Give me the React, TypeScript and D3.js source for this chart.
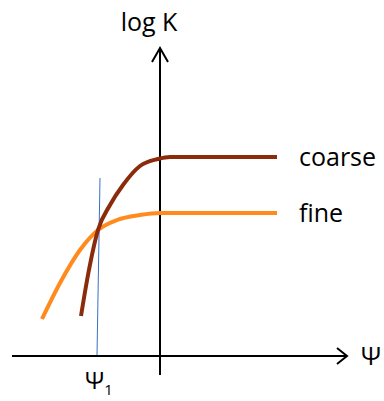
import React from 'react';
import * as d3 from 'd3';

// Curve points, in Ψ / log K units (origin where the axes cross)
const coarsePsi = [-7.9, -7.2, -6.2, -5.0, -3.7, -2.0, -0.2, 1.0, 11.7];
const coarseLogK = [4.0, 8.1, 12.6, 15.1, 17.1, 19.0, 19.7, 19.9, 19.9];

const finePsi = [-11.8, -10.0, -8.0, -6.2, -4.3, -2.0, 0.0, 11.7];
const fineLogK = [3.7, 7.3, 10.6, 12.6, 13.6, 14.1, 14.3, 14.3];

// the thin blue marker line at Ψ1
const psi1Line = [-6.0, -6.3];
const psi1LogK = [17.8, 0.1];

const seriesLabels = ['coarse', 'fine'];
const axisLabels = { y: 'log K', x: 'Ψ', psi1: 'Ψ' };

const W = 384;
const H = 401;

const App = () => {
  const x = d3.scaleLinear().domain([-15, 19]).range([10, 350]);
  const y = d3.scaleLinear().domain([0, 30]).range([356, 56]);

  const line = d3.line<[number, number]>()
    .x(d => x(d[0]))
    .y(d => y(d[1]))
    .curve(d3.curveMonotoneX);

  const coarse: [number, number][] = coarsePsi.map((p, i) => [p, coarseLogK[i]]);
  const fine: [number, number][] = finePsi.map((p, i) => [p, fineLogK[i]]);

  const x0 = x(0);
  const y0 = y(0);
  const yTop = y(30.8);
  const yBottom = y(-1.9);
  const xLeft = x(-14.8);
  const xRight = x(18.7);

  const font = '"Open Sans", sans-serif';

  return (
    <svg width={W} height={H} style={{ position: 'absolute', left: 0, top: 0, background: '#fff' }}>
      {/* y axis */}
      <line x1={x0} x2={x0} y1={yTop} y2={yBottom} stroke="#000" strokeWidth={2} />
      <polyline points={`${x0 - 8},${yTop + 14} ${x0},${yTop} ${x0 + 8},${yTop + 14}`}
        fill="none" stroke="#000" strokeWidth={2} />
      {/* x axis */}
      <line x1={xLeft} x2={xRight} y1={y0} y2={y0} stroke="#000" strokeWidth={2} />
      <polyline points={`${xRight - 10},${y0 - 8} ${xRight},${y0} ${xRight - 10},${y0 + 8}`}
        fill="none" stroke="#000" strokeWidth={2} />

      {/* Ψ1 marker */}
      <line x1={x(psi1Line[0])} y1={y(psi1LogK[0])} x2={x(psi1Line[1])} y2={y(psi1LogK[1])}
        stroke="#3a6fc4" strokeWidth={1} />

      {/* curves */}
      <path d={line(fine) || ''} fill="none" stroke="#ff8a1e" strokeWidth={4} />
      <path d={line(coarse) || ''} fill="none" stroke="#8a2c0c" strokeWidth={4} />

      {/* labels */}
      <text x={x(13.9)} y={y(19)} fontFamily={font} fontSize={25} fill="#000">
        {seriesLabels[0]}
      </text>
      <text x={x(13.9)} y={y(13.4)} fontFamily={font} fontSize={25} fill="#000">
        {seriesLabels[1]}
      </text>
      <text x={149} y={31} textAnchor="middle" fontFamily={font} fontSize={25} fill="#000">
        {axisLabels.y}
      </text>
      <text x={361} y={365} fontFamily={font} fontSize={25} fill="#000">
        {axisLabels.x}
      </text>
      <text x={85} y={389} fontFamily={font} fontSize={24} fill="#000">
        {axisLabels.psi1}
        <tspan fontSize={15} dy={6}>1</tspan>
      </text>
    </svg>
  );
};

export default App;
